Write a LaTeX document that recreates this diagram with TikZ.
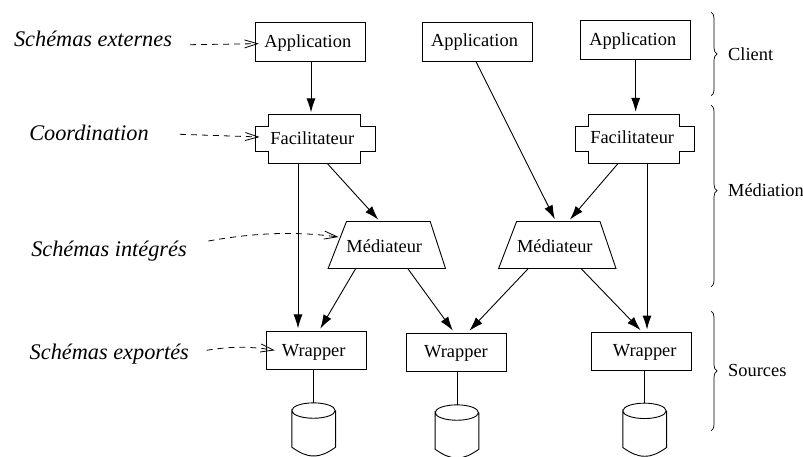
\documentclass[tikz,border=0pt]{standalone}
\usepackage{fontspec}
\setmainfont{Liberation Serif}
\usetikzlibrary{arrows.meta,decorations.pathreplacing}
\tikzset{
    trait/.style={line width=0.9pt},
    fleche/.style={trait,-{Latex[length=14pt,width=9pt]},shorten >=2.5pt},
    pointille/.style={line width=0.8pt,dash pattern=on 6pt off 5pt,-{Straight Barb[length=13pt,width=8pt]}},
    accolade/.style={line width=0.7pt,decorate,decoration={brace,amplitude=6pt,#1}},
    accolade/.default={aspect=0.5},
    boite/.style={draw,trait,inner sep=0pt,text height=13pt,text depth=3pt,font=\fontsize{18.4}{20}\selectfont},
    cache/.style={inner sep=0pt,text height=13pt,text depth=3pt,font=\fontsize{18.4}{20}\selectfont},
    decale/.style={execute at begin node={\hspace*{#1pt}}},
    legende/.style={inner sep=0pt,font=\fontsize{22.3}{24}\selectfont\itshape},
    couche/.style={inner sep=0pt,anchor=west,font=\fontsize{18.4}{20}\selectfont}
}
\begin{document}
\begin{tikzpicture}[x=1pt,y=-1pt]
    \useasboundingbox (0,0) rectangle (803,457);

    % Applications
    \foreach \nom/\x/\y in {app1/310.3/42.2,app2/477/41.7,app3/635.3/40.4} {
        \node[boite,decale=-5,minimum width=110pt,minimum height=39pt] (\nom) at (\x,\y) {Application};
    }

    % Facilitateurs
    \foreach \nom/\x/\y in {fac1/315.3/139.4,fac2/635.2/139} {
        \node[cache,decale=-6,minimum width=119pt,minimum height=48.7pt] (\nom) at (\x,\y) {Facilitateur};
        \draw[trait] ([xshift=13pt]\nom.north west) -- ([xshift=-15pt]\nom.north east)
            -- ++(0,12) -- ([yshift=-12pt]\nom.north east) -- ([yshift=12pt]\nom.south east)
            -- ++(-15,0) -- ([xshift=-15pt]\nom.south east) -- ([xshift=13pt]\nom.south west)
            -- ++(0,-12) -- ([yshift=12pt]\nom.south west) -- ([yshift=-12pt]\nom.north west)
            -- ++(13,0) -- cycle;
    }

    % Mediateurs
    \foreach \nom/\x/\g/\d in {med1/386.8/18.4/15.3,med2/557.3/18/16} {
        \node[cache,text height=14pt,text depth=0pt,decale=-5,minimum width=117pt,minimum height=46.6pt] (\nom) at (\x,245) {Médiateur};
        \draw[trait] (\nom.south west) -- ([xshift=\g pt]\nom.north west)
            -- ([xshift=-\d pt]\nom.north east) -- (\nom.south east) -- cycle;
    }

    % Wrappers
    \foreach \nom/\x/\y/\d/\p in {wrap1/316.7/350.3/-6/1,wrap2/456.5/352/-1/3,wrap3/641.2/351.5/7/4} {
        \node[boite,decale=\d,text depth=\p pt,minimum width=100pt,minimum height=38pt] (\nom) at (\x,\y) {Wrapper};
    }

    % Bases
    \foreach \nom/\x/\y in {base1/313.7/429.4,base2/457/431.4,base3/644.7/429.7} {
        \node[cache,minimum width=43.3pt,minimum height=52.7pt] (\nom) at (\x,\y) {};
        \draw[trait] ([yshift=-7.7pt]\nom.north west) arc (180:0:21.65pt and 7.7pt)
            arc (0:-180:21.65pt and 7.7pt) -- ([yshift=8.7pt]\nom.south west)
            .. controls +(8,5.5) and +(-8,0) .. (\nom.south)
            .. controls +(8,0) and +(-8,5.5) .. ([yshift=8.7pt]\nom.south east)
            -- ([yshift=-7.7pt]\nom.north east);
    }
    \draw[trait] (wrap1.south -| base1.north) -- (base1.north);
    \draw[trait] (wrap2.south -| base2.north) -- (base2.north);
    \draw[trait] (wrap3.south -| base3.north) -- (base3.north);

    % Liens
    \draw[fleche] ([xshift=0.7pt]app1.south) -- ([xshift=-4.3pt]fac1.north);
    \draw[fleche] ([xshift=-17.3pt]fac1.south) -- ([xshift=-18.7pt]wrap1.north);
    \draw[fleche] ([xshift=12.4pt]fac1.south) -- ([xshift=-6.8pt]med1.north);
    \draw[fleche] ([xshift=-31.1pt]med1.south) -- ([xshift=2.3pt]wrap1.north);
    \draw[fleche] ([xshift=20.9pt]med1.south) -- ([xshift=-2.2pt]wrap2.north);
    \draw[fleche] ([xshift=-29pt]med2.south) -- ([xshift=11.2pt]wrap2.north);
    \draw[fleche] ([xshift=23.7pt]med2.south) -- ([xshift=1.1pt]wrap3.north);
    \draw[fleche] ([xshift=-1pt]app2.south) -- ([xshift=-1.3pt]med2.north);
    \draw[fleche] ([xshift=-17.2pt]fac2.south) -- ([xshift=11pt]med2.north);
    \draw[fleche] ([xshift=0.4pt]app3.south) -- ([xshift=0.5pt]fac2.north);
    \draw[fleche] ([xshift=11.8pt]fac2.south) -- ([xshift=5.8pt]wrap3.north);

    % Schemas
    \node[legende] (sch1) at (93,39) {Schémas externes};
    \node[legende] (sch2) at (89,133) {Coordination};
    \node[legende] (sch3) at (109,251) {Schémas intégrés};
    \node[legende] (sch4) at (109.3,354) {Schémas exportés};
    \draw[pointille] ([shift={(18pt,-5.7pt)}]sch1.east) -- ([shift={(4pt,-1.5pt)}]app1.west);
    \draw[pointille] ([shift={(31pt,-1.3pt)}]sch2.east) -- ([xshift=4pt,yshift=2.4pt]fac1.west);
    \draw[pointille] ([shift={(21.5pt,10pt)}]sch3.east) .. controls +(45,-8) and +(-45,-6) .. ([shift={(10.4pt,8pt)}]med1.west);
    \draw[pointille] ([shift={(17.5pt,3.7pt)}]sch4.east) .. controls +(25,-4) and +(-25,-4) .. ([xshift=8.6pt]wrap1.west);

    % Couches
    \draw[accolade] (711,12) -- (711,96);
    \draw[accolade={aspect=0.47}] (711,105) -- (711,287);
    \draw[accolade] (711,311) -- (711,431);
    \node[couche] (client) at (728,54) {Client};
    \node[couche] (mediation) at (728,190) {Médiation};
    \node[couche] (sources) at (728,370) {Sources};
\end{tikzpicture}
\end{document}
